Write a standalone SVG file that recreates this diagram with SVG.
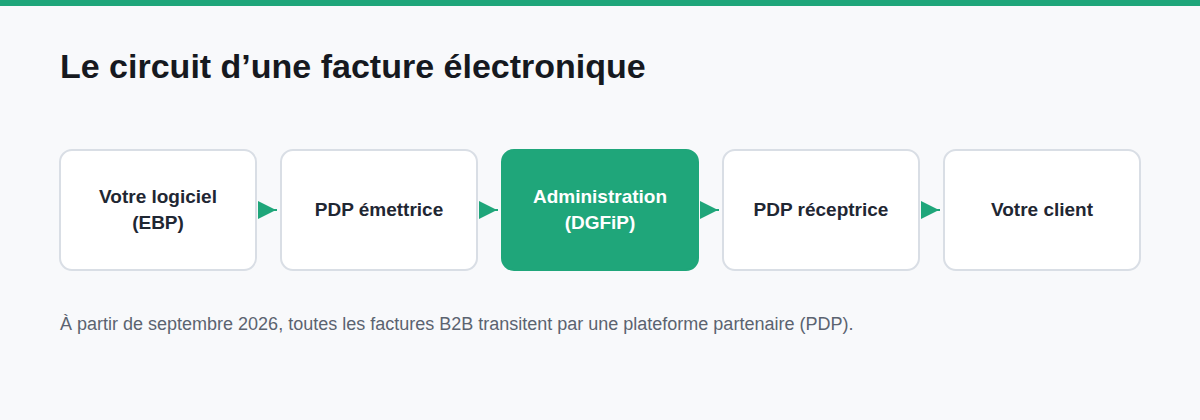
<svg xmlns="http://www.w3.org/2000/svg" width="1200" height="420" viewBox="0 0 1200 420">
<style>
.bg{fill:#f8f9fb}
.box{fill:#ffffff;stroke:#d9dee5;stroke-width:2}
.hl{fill:#1fa67a;stroke:#1fa67a;stroke-width:2}
.lbl{font-family:"Liberation Sans",Arial,sans-serif;font-weight:bold;font-size:19px;fill:#1f2733;text-anchor:middle}
.lblw{fill:#ffffff}
.title{font-family:"Liberation Sans",Arial,sans-serif;font-weight:bold;font-size:34px;fill:#16191f}
.note{font-family:"Liberation Sans",Arial,sans-serif;font-size:18px;fill:#5b6370}
.conn line{stroke:#1fa67a;stroke-width:2}
</style>
<rect class="bg" x="0" y="0" width="1200" height="420"/>
<rect x="0" y="0" width="1200" height="6" fill="#1fa67a"/>
<text class="title" x="60" y="78">Le circuit d’une facture électronique</text>
<g class="conn">
<polygon points="258,201 276,210 258,219" fill="#1fa67a"/><line x1="266" y1="210" x2="277" y2="210"/>
<polygon points="479,201 497,210 479,219" fill="#1fa67a"/><line x1="487" y1="210" x2="498" y2="210"/>
<polygon points="700,201 718,210 700,219" fill="#1fa67a"/><line x1="708" y1="210" x2="719" y2="210"/>
<polygon points="921,201 939,210 921,219" fill="#1fa67a"/><line x1="929" y1="210" x2="940" y2="210"/>
</g>
<g id="n1"><rect class="box" x="60" y="150" width="196" height="120" rx="12"/><text class="lbl" x="158" y="203">Votre logiciel</text><text class="lbl" x="158" y="229">(EBP)</text></g>
<g id="n2"><rect class="box" x="281" y="150" width="196" height="120" rx="12"/><text class="lbl" x="379" y="216">PDP émettrice</text></g>
<g id="n3"><rect class="hl" x="502" y="150" width="196" height="120" rx="12"/><text class="lbl lblw" x="600" y="203">Administration</text><text class="lbl lblw" x="600" y="229">(DGFiP)</text></g>
<g id="n4"><rect class="box" x="723" y="150" width="196" height="120" rx="12"/><text class="lbl" x="821" y="216">PDP réceptrice</text></g>
<g id="n5"><rect class="box" x="944" y="150" width="196" height="120" rx="12"/><text class="lbl" x="1042" y="216">Votre client</text></g>
<text class="note" x="60" y="330">À partir de septembre 2026, toutes les factures B2B transitent par une plateforme partenaire (PDP).</text>
</svg>
